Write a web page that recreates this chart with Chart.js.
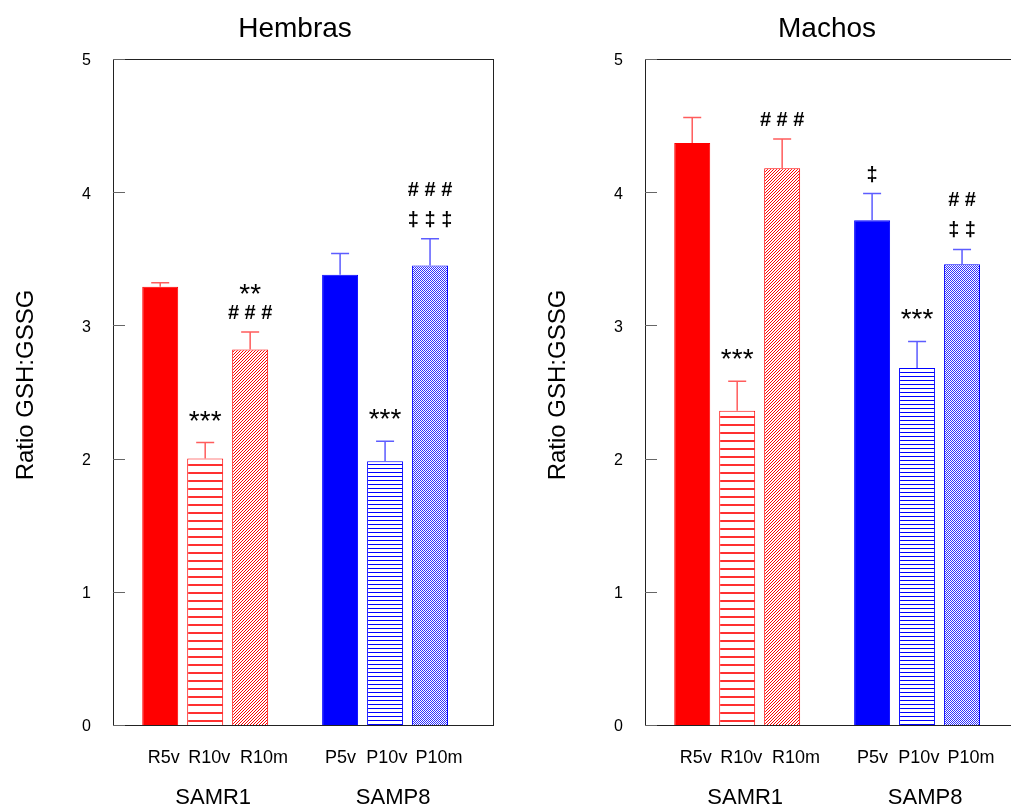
<!DOCTYPE html>
<html>
<head>
<meta charset="utf-8">
<script src="https://cdn.jsdelivr.net/npm/chart.js@4"></script>
<style>
  html, body { margin: 0; padding: 0; background: #fff; overflow: hidden; width: 1011px; height: 811px; }
  canvas { position: absolute; top: 0; }
</style>
</head>
<body>
<canvas id="hembras" width="532" height="811" style="left:0"></canvas>
<canvas id="machos" width="532" height="811" style="left:532px"></canvas>
<script>
// data
const categories = ["R5v", "R10v", "R10m", "P5v", "P10v", "P10m"];
const groups = ["SAMR1", "SAMP8"];
const yTicks = [0, 1, 2, 3, 4, 5];

const hembrasMean = [3.29, 2.00, 2.82, 3.38, 1.98, 3.45];
const hembrasSem = [0.03, 0.12, 0.13, 0.16, 0.15, 0.20];
const machosMean = [4.37, 2.36, 4.18, 3.79, 2.68, 3.46];
const machosSem = [0.19, 0.22, 0.22, 0.20, 0.20, 0.11];

// significance marks, listed from bottom to top
const hembrasMarks = [[], ["***"], ["# # #", "**"], [], ["***"], ["‡ ‡ ‡", "# # #"]];
const machosMarks = [[], ["***"], ["# # #"], ["‡"], ["***"], ["‡ ‡", "# #"]];

Chart.defaults.font.family = '"Liberation Sans", Arial, sans-serif';
Chart.defaults.color = "#000";

// little tiles drawn pixel by pixel
function pattern(kind, color) {
  const c = document.createElement("canvas");
  const s = kind === "hwide" ? 8 : kind === "hfine" ? 4 : kind === "diag" ? 3 : 2;
  c.width = s; c.height = s;
  const g = c.getContext("2d");
  g.fillStyle = "#fff";
  g.fillRect(0, 0, s, s);
  g.fillStyle = color;
  if (kind === "hwide") {
    g.fillRect(0, 0, s, 2);
  } else if (kind === "hfine") {
    g.fillRect(0, 0, s, 1);
  } else if (kind === "diag") {
    for (let i = 0; i < s; i++) g.fillRect(i, s - 1 - i, 1, 1);
  } else {
    g.fillRect(0, 0, 1, 1);
    g.fillRect(1, 1, 1, 1);
  }
  return g.createPattern(c, "repeat");
}

const fills = [
  "#ff0000", pattern("hwide", "#ff3030"), pattern("diag", "#ff0000"),
  "#0000ff", pattern("hfine", "#0000ff"), pattern("cross", "#3030ff")
];
const edges = ["#ff0000", "#ff0000", "#ff0000", "#0000ff", "#0000ff", "#0000ff"];
const whiskers = ["#ff5c5c", "#ff5c5c", "#ff5c5c", "#5c5cff", "#5c5cff", "#5c5cff"];

// one empty slot between the two strains
const slots = categories.map((c, i) => i + Math.floor(i / 3));
// the bar names sit a little right of their bars in the original
const labelShift = [0.08, 0.09, 0.31, 0.01, 0.04, 0.2];

function makeChart(id, title, mean, sem, marks) {
  const extras = {
    id: "extras",
    afterDatasetsDraw(chart) {
      const ctx = chart.ctx;
      const a = chart.chartArea;
      const xs = chart.scales.x;
      const ys = chart.scales.y;
      ctx.save();

      // frame
      ctx.strokeStyle = "#222";
      ctx.lineWidth = 1;
      ctx.strokeRect(a.left + 0.5, a.top + 0.5, a.right - a.left, a.bottom - a.top);

      // inner ticks
      ctx.strokeStyle = "#666";
      ys.ticks.forEach(t => {
        const y = Math.round(ys.getPixelForValue(t.value)) + 0.5;
        ctx.beginPath();
        ctx.moveTo(a.left, y);
        ctx.lineTo(a.left + 12, y);
        ctx.stroke();
      });

      // error bars (upper only) and marks
      mean.forEach((m, i) => {
        const x = xs.getPixelForValue(slots[i]);
        const yb = ys.getPixelForValue(m);
        const yt = ys.getPixelForValue(m + sem[i]);
        ctx.strokeStyle = whiskers[i];
        ctx.lineWidth = 1.5;
        ctx.beginPath();
        ctx.moveTo(x, yb);
        ctx.lineTo(x, yt);
        ctx.moveTo(x - 9, yt);
        ctx.lineTo(x + 9, yt);
        ctx.stroke();

        ctx.fillStyle = "#000";
        ctx.textAlign = "center";
        ctx.textBaseline = "alphabetic";
        let base = yt - 13;
        marks[i].forEach((txt, k) => {
          const star = txt.indexOf("*") >= 0;
          if (k > 0) base -= star ? 16 : 30;
          ctx.font = star ? '28px "Liberation Sans", Arial' : 'bold 20px "Liberation Sans", Arial';
          ctx.fillText(txt, x, base);
        });
      });

      // strain labels
      ctx.font = '22px "Liberation Sans", Arial';
      ctx.fillStyle = "#000";
      ctx.textAlign = "center";
      groups.forEach((g, k) => {
        ctx.fillText(g, xs.getPixelForValue(slots[k * 3 + 1]) + 8, 804);
      });

      // title
      ctx.font = '28px "Liberation Sans", Arial';
      ctx.fillText(title, (a.left + a.right) / 2 - 8, 37);

      // y axis title
      ctx.font = '24px "Liberation Sans", Arial';
      ctx.translate(33, 385);
      ctx.rotate(-Math.PI / 2);
      ctx.fillText("Ratio GSH:GSSG", 0, 0);
      ctx.restore();
    }
  };

  return new Chart(document.getElementById(id), {
    type: "bar",
    data: {
      datasets: [{
        data: slots.map((x, i) => ({ x: x, y: mean[i] })),
        backgroundColor: fills,
        borderColor: edges,
        borderWidth: 1,
        barPercentage: 0.8,
        categoryPercentage: 1
      }]
    },
    options: {
      responsive: false,
      animation: false,
      layout: { padding: { top: 59, right: 39, left: 0, bottom: 0 } },
      plugins: { legend: { display: false }, tooltip: { enabled: false } },
      scales: {
        x: {
          type: "linear",
          offset: false,
          min: -1.05,
          max: 7.4,
          afterBuildTicks: axis => { axis.ticks = slots.map((v, i) => ({ value: v + labelShift[i] })); },
          afterFit: axis => { axis.height = 86; },
          ticks: {
            autoSkip: false,
            maxRotation: 0,
            padding: 22,
            font: { size: 18 },
            color: "#000",
            callback: (v, i) => categories[i]
          },
          grid: { display: false, drawTicks: false, offset: false },
          border: { display: false }
        },
        y: {
          min: 0,
          max: 5,
          afterBuildTicks: axis => { axis.ticks = yTicks.map(v => ({ value: v })); },
          afterFit: axis => { axis.width = 113; },
          ticks: { padding: 22, labelOffset: 2, font: { size: 16 }, color: "#000" },
          grid: { display: false, drawTicks: false },
          border: { display: false }
        }
      }
    },
    plugins: [extras]
  });
}

makeChart("hembras", "Hembras", hembrasMean, hembrasSem, hembrasMarks);
makeChart("machos", "Machos", machosMean, machosSem, machosMarks);
</script>
</body>
</html>
